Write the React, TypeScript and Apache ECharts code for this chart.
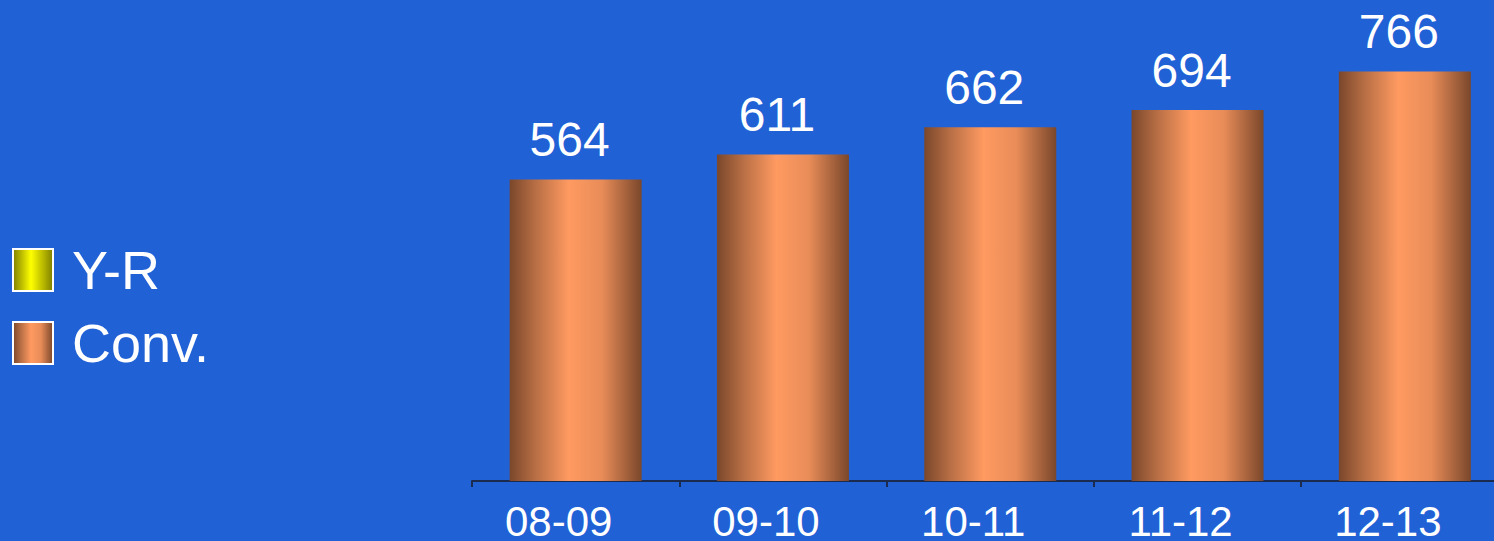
import React, { useEffect, useRef } from "react";
import * as echarts from "echarts";

const categories = ["08-09", "09-10", "10-11", "11-12", "12-13"];
const convValues = [564, 611, 662, 694, 766];
const yrValues: (number | null)[] = [null, null, null, null, null];
const seriesNames = ["Y-R", "Conv."];

export default function App() {
  const ref = useRef<HTMLDivElement>(null);
  useEffect(() => {
    if (!ref.current) return;
    const chart = echarts.init(ref.current, undefined, { renderer: "svg" });
    const font = "Liberation Sans, Arial, sans-serif";
    const convGrad = new echarts.graphic.LinearGradient(0, 0, 1, 0, [
      { offset: 0, color: "#7a472b" },
      { offset: 0.2, color: "#b96f45" },
      { offset: 0.45, color: "#ff9a61" },
      { offset: 0.7, color: "#e88c58" },
      { offset: 1, color: "#7a472b" },
    ]);
    const yrGrad = new echarts.graphic.LinearGradient(0, 0, 1, 0, [
      { offset: 0, color: "#7f7f00" },
      { offset: 0.45, color: "#ffff00" },
      { offset: 1, color: "#7f7f00" },
    ]);
    chart.setOption({
      animation: false,
      backgroundColor: "#2161d6",
      textStyle: { fontFamily: font },
      legend: {
        orient: "vertical",
        left: 7,
        top: 238,
        itemWidth: 40,
        itemHeight: 42,
        itemGap: 19,
        icon: "rect",
        data: seriesNames,
        itemStyle: { borderColor: "#ffffff", borderWidth: 2 },
        textStyle: {
          color: "#ffffff",
          fontSize: 54,
          fontFamily: font,
          padding: [0, 0, 0, 14],
        },
      },
      grid: {
        left: 472,
        top: 0,
        width: 1036.5,
        bottom: 60,
        containLabel: false,
        outerBoundsMode: "none",
      },
      xAxis: {
        type: "category",
        data: categories,
        axisLine: { lineStyle: { color: "#1b2a4f", width: 2 } },
        axisTick: { show: true, length: 6, lineStyle: { color: "#1b2a4f", width: 2 } },
        axisLabel: {
          color: "#ffffff",
          fontSize: 42,
          margin: 19,
          fontFamily: font,
          padding: [0, 34, 0, 0],
        },
      },
      yAxis: {
        type: "value",
        min: 0,
        max: 900,
        show: false,
        splitLine: { show: false },
      },
      series: [
        {
          name: "Y-R",
          type: "bar",
          data: yrValues,
          barWidth: 132,
          barGap: "-100%",
          itemStyle: { color: yrGrad },
        },
        {
          name: "Conv.",
          type: "bar",
          data: convValues,
          barWidth: 132,
          barGap: "-100%",
          itemStyle: { color: convGrad },
          label: {
            show: true,
            position: "top",
            distance: 16,
            offset: [-6, 0],
            color: "#ffffff",
            fontSize: 48,
            fontFamily: font,
          },
        },
      ],
    });
    return () => chart.dispose();
  }, []);
  return (
    <div
      ref={ref}
      style={{ position: "fixed", left: 0, top: 0, width: 1494, height: 541 }}
    />
  );
}
